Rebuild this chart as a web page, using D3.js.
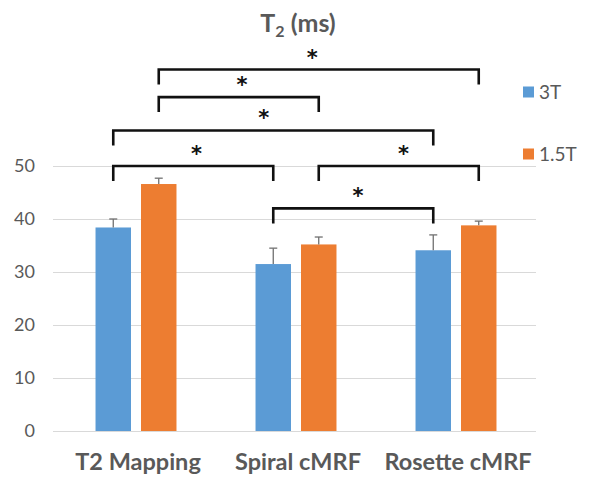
<!DOCTYPE html>
<html>
<head>
<meta charset="utf-8">
<script src="https://cdn.jsdelivr.net/npm/d3@7/dist/d3.min.js"></script>
<style>
  html, body { margin: 0; padding: 0; background: #fff; }
  svg { display: block; }
</style>
</head>
<body>
<svg id="chart" width="605" height="487"></svg>
<script>
// T2 relaxation times (mean and SD) per method and field strength
const categories = ["T2 Mapping", "Spiral cMRF", "Rosette cMRF"];
const seriesNames = ["3T", "1.5T"];
const values3T = [38.4, 31.5, 34.1];
const values15T = [46.6, 35.2, 38.8];
const sd3T = [1.6, 3.0, 2.9];
const sd15T = [1.1, 1.4, 0.8];
const yTicks = [0, 10, 20, 30, 40, 50];

// Significant pairwise differences: bar A vs bar B, bracket level (ms), star position along bracket
const brackets = [
  { a: ["T2 Mapping", "1.5T"], b: ["Rosette cMRF", "1.5T"], level: 68.2, star: 0.48 },
  { a: ["T2 Mapping", "1.5T"], b: ["Spiral cMRF", "1.5T"], level: 63.0, star: 0.52 },
  { a: ["T2 Mapping", "3T"], b: ["Rosette cMRF", "3T"], level: 56.7, star: 0.47 },
  { a: ["T2 Mapping", "3T"], b: ["Spiral cMRF", "3T"], level: 50.0, star: 0.52 },
  { a: ["Spiral cMRF", "1.5T"], b: ["Rosette cMRF", "1.5T"], level: 50.0, star: 0.53 },
  { a: ["Spiral cMRF", "3T"], b: ["Rosette cMRF", "3T"], level: 42.0, star: 0.53 }
];

const colors = { "3T": "#5B9BD5", "1.5T": "#ED7D31" };
const textColor = "#595959";
const font = "Lato, 'Open Sans', sans-serif";

const rows = categories.map((c, i) => ({
  category: c,
  bars: [
    { series: "3T", value: values3T[i], sd: sd3T[i] },
    { series: "1.5T", value: values15T[i], sd: sd15T[i] }
  ]
}));

const svg = d3.select("#chart");

const x0 = d3.scaleBand().domain(categories).range([56, 536])
  .paddingInner(0.494).paddingOuter(0.247);
const x1 = d3.scaleBand().domain(seriesNames).range([0, x0.bandwidth()])
  .paddingInner(0.22).paddingOuter(0);
const y = d3.scaleLinear().domain([0, 50]).range([431, 166]);

const barCenter = (cat, s) => x0(cat) + x1(s) + x1.bandwidth() / 2;

// Gridlines and value axis
const gridLeft = 53, gridRight = 536;
const yAxis = svg.append("g")
  .attr("transform", `translate(${gridLeft},0)`)
  .call(d3.axisLeft(y).tickValues(yTicks).tickSize(-(gridRight - gridLeft)).tickPadding(18));
yAxis.select(".domain").remove();
yAxis.selectAll(".tick line").attr("stroke", "#D9D9D9").attr("stroke-width", 1);
yAxis.selectAll(".tick text")
  .attr("fill", textColor)
  .style("font-family", font)
  .style("font-size", "18px");

// Bars
const groups = svg.append("g").selectAll("g.group")
  .data(rows).join("g")
  .attr("class", "group")
  .attr("transform", d => `translate(${x0(d.category)},0)`);

groups.selectAll("rect")
  .data(d => d.bars).join("rect")
  .attr("x", d => x1(d.series))
  .attr("width", x1.bandwidth())
  .attr("y", d => y(d.value))
  .attr("height", d => y(0) - y(d.value))
  .attr("fill", d => colors[d.series]);

// Error bars (upper only)
const capHalf = 4;
const err = groups.selectAll("g.err")
  .data(d => d.bars).join("g")
  .attr("class", "err")
  .attr("stroke", "#707070")
  .attr("stroke-width", 1.3);
err.append("line")
  .attr("x1", d => x1(d.series) + x1.bandwidth() / 2)
  .attr("x2", d => x1(d.series) + x1.bandwidth() / 2)
  .attr("y1", d => y(d.value))
  .attr("y2", d => y(d.value + d.sd));
err.append("line")
  .attr("x1", d => x1(d.series) + x1.bandwidth() / 2 - capHalf)
  .attr("x2", d => x1(d.series) + x1.bandwidth() / 2 + capHalf)
  .attr("y1", d => y(d.value + d.sd))
  .attr("y2", d => y(d.value + d.sd));

// Category labels
svg.append("g").selectAll("text")
  .data(categories).join("text")
  .attr("x", d => x0(d) + x0.bandwidth() / 2 + 2)
  .attr("y", 470)
  .attr("text-anchor", "middle")
  .attr("fill", textColor)
  .style("font-family", font)
  .style("font-weight", "bold")
  .style("font-size", "23.5px")
  .text(d => d);

// Significance brackets
const tickLen = 15;
const bg = svg.append("g").selectAll("g.bracket")
  .data(brackets).join("g")
  .attr("class", "bracket");
bg.append("path")
  .attr("fill", "none")
  .attr("stroke", "#111")
  .attr("stroke-width", 2.6)
  .attr("d", d => {
    const xa = barCenter(d.a[0], d.a[1]);
    const xb = barCenter(d.b[0], d.b[1]);
    const yl = y(d.level);
    return `M${xa},${yl + tickLen}V${yl}H${xb}V${yl + tickLen}`;
  });
bg.append("text")
  .attr("x", d => {
    const xa = barCenter(d.a[0], d.a[1]);
    const xb = barCenter(d.b[0], d.b[1]);
    return xa + (xb - xa) * d.star;
  })
  .attr("y", d => y(d.level) - 16 + 11)
  .attr("text-anchor", "middle")
  .attr("fill", "#111")
  .style("font-family", "'DejaVu Sans', sans-serif")
  .style("font-weight", "bold")
  .style("font-size", "21px")
  .text("*");

// Title
const title = svg.append("text")
  .attr("x", 298)
  .attr("y", 32)
  .attr("text-anchor", "middle")
  .attr("fill", textColor)
  .style("font-family", font)
  .style("font-weight", "bold")
  .style("font-size", "25px");
title.append("tspan").text("T");
title.append("tspan").attr("dy", 5).style("font-size", "16px").text("2");
title.append("tspan").attr("dy", -5).text(" (ms)");

// Legend
const legendY = [92, 154];
const legend = svg.append("g").selectAll("g")
  .data(seriesNames).join("g")
  .attr("transform", (d, i) => `translate(523,${legendY[i]})`);
legend.append("rect")
  .attr("x", 0).attr("y", -5.5)
  .attr("width", 11).attr("height", 11)
  .attr("fill", d => colors[d]);
legend.append("text")
  .attr("x", 16).attr("y", 7)
  .attr("fill", textColor)
  .style("font-family", font)
  .style("font-size", "19px")
  .text(d => d);
</script>
</body>
</html>
